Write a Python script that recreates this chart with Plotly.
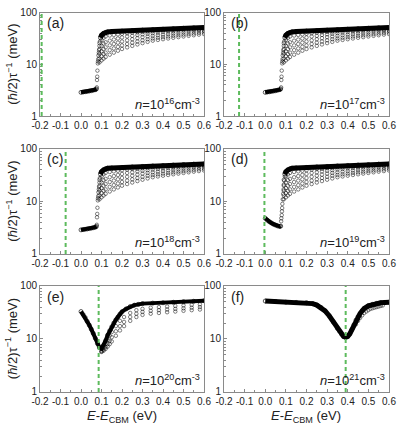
import plotly.graph_objects as go

# ---- data ----
PANEL_LABELS = ["(a)", "(b)", "(c)", "(d)", "(e)", "(f)"]
DOPING_EXP = ["16", "17", "18", "19", "20", "21"]
FERMI_LEVEL = [-0.192, -0.127, -0.075, -0.004, 0.086, 0.39]
X_TICKS = [-0.2, -0.1, 0.0, 0.1, 0.2, 0.3, 0.4, 0.5, 0.6]
X_TICK_TEXT = ["-0.2", "-0.1", "0.0", "0.1", "0.2", "0.3", "0.4", "0.5", "0.6"]

# low-energy segment, panels a-c
LOW_X = [0.0, 0.01, 0.02, 0.03, 0.04, 0.05, 0.06, 0.07, 0.075]
LOW_Y = [2.88, 2.92, 2.96, 3.0, 3.05, 3.1, 3.17, 3.25, 3.35]
RISE_X = [0.077, 0.078, 0.079, 0.08, 0.082, 0.083, 0.084, 0.085, 0.087, 0.088, 0.09, 0.092]
RISE_Y = [3.6, 5.0, 5.8, 7.6, 10.5, 11.5, 12.7, 15, 17, 19, 23, 28]

# low-energy segment, panel d
D_LOW_X = [0.0, 0.01, 0.02, 0.03, 0.04, 0.05, 0.06, 0.07, 0.075]
D_LOW_Y = [4.8, 4.4, 4.1, 3.9, 3.7, 3.55, 3.42, 3.35, 3.4]
D_RISE_X = [0.077, 0.078, 0.08, 0.081, 0.082, 0.083, 0.085, 0.087, 0.089, 0.09, 0.092, 0.095]
D_RISE_Y = [4.2, 4.8, 5.5, 6.5, 7.5, 9, 11, 14, 17, 21, 25, 30]

# dense upper band, panels a-d
TOP_X = [0.095, 0.10, 0.11, 0.12, 0.13, 0.15, 0.20, 0.25, 0.30, 0.35, 0.40, 0.45, 0.50, 0.55, 0.60]
TOP_Y = [33, 37, 40, 42, 43, 43.5, 44.5, 45.5, 46.5, 47.5, 48.5, 49.5, 50.5, 51.5, 52]

# scattered fan below the band, panels a-d
FAN_X = [0.09, 0.10, 0.11, 0.12, 0.14, 0.16, 0.18, 0.20, 0.225, 0.25, 0.275, 0.30,
         0.325, 0.35, 0.375, 0.40, 0.425, 0.45, 0.475, 0.50, 0.525, 0.55, 0.575, 0.60]
FAN_1 = [11, 12, 13, 14, 15.5, 17, 18.5, 20, 21.5, 23, 24.5, 26,
         27.5, 29, 30, 31, 32, 33, 34, 35, 36, 37, 38, 39]
FAN_2 = [13, 14.5, 16, 17, 19, 20.5, 22, 23.5, 25, 26.5, 28, 29.5,
         31, 32, 33, 34, 35, 36, 37, 38, 39, 40, 41, 42]
FAN_3 = [16, 18, 20, 21.5, 23.5, 25, 26.5, 28, 29.5, 31, 32.5, 34,
         35, 36, 37, 38, 39, 40, 41, 42, 43, 44, 44.5, 45]
FAN_4 = [20, 23, 25.5, 27, 29, 30.5, 32, 33.5, 35, 36, 37.5, 38.5,
         39.5, 40.5, 41.5, 42.5, 43.5, 44, 45, 46, 46.5, 47, 47.5, 48]
FAN_5 = [26, 30, 33, 35, 36.5, 37.5, 38.5, 39.5, 40.5, 41.5, 42, 43,
         43.5, 44.5, 45, 46, 46.5, 47, 48, 48.5, 49, 49.5, 50, 50.5]

# panel e
E_X = [0.0, 0.01, 0.02, 0.03, 0.04, 0.05, 0.06, 0.07, 0.08, 0.09, 0.10, 0.11, 0.12, 0.13,
       0.14, 0.15, 0.16, 0.17, 0.18, 0.19, 0.20, 0.22, 0.24, 0.26, 0.28, 0.30, 0.35, 0.40,
       0.45, 0.50, 0.55, 0.60]
E_Y = [33, 29, 25.5, 21.5, 18.3, 15.3, 12.7, 10.3, 8.2, 6.9, 6.6, 7.6, 9.3, 11.8,
       14.3, 17, 20, 23, 26, 29.5, 32.7, 37, 41, 43.5, 45, 46.5, 47.5, 48.2,
       49.3, 50.5, 51.5, 52.7]
E_SX = [0.10, 0.11, 0.12, 0.13, 0.14, 0.15, 0.17, 0.19, 0.21, 0.24, 0.27, 0.30, 0.34,
        0.38, 0.42, 0.46, 0.50, 0.54, 0.58]
E_S1 = [6.0, 6.8, 8.0, 9.5, 11.5, 13.5, 17.5, 22, 26, 31, 35, 37, 39, 40, 41, 42, 43, 44, 45]
E_S2 = [5.8, 6.3, 7.0, 8.0, 9.3, 10.8, 14, 17.5, 21, 26, 30, 32.5, 34, 35, 36, 37, 38, 39, 40]
E_S3 = [5.7, 6.0, 6.5, 7.2, 8.0, 9.0, 11.5, 14.5, 17.5, 22, 26, 28.5, 30, 31, 32, 33, 34, 35, 36]

# panel f
F_X = [0.0, 0.05, 0.10, 0.15, 0.20, 0.23, 0.25, 0.27, 0.29, 0.31, 0.33, 0.35, 0.36, 0.37,
       0.38, 0.39, 0.40, 0.41, 0.42, 0.43, 0.44, 0.45, 0.46, 0.47, 0.48, 0.50, 0.52, 0.54,
       0.56, 0.58, 0.60]
F_Y = [52, 51, 49.5, 49, 48.3, 46.5, 43.6, 39.5, 34, 27.5, 21, 15.8, 14, 12.3,
       11.2, 10.8, 11.2, 12.5, 15, 18.5, 22.7, 26.5, 30.3, 34, 37.7, 42.3, 45, 47,
       48.3, 49, 49.5]
F_SX = [0.44, 0.45, 0.46, 0.47, 0.48, 0.49, 0.50, 0.51, 0.52, 0.53, 0.54, 0.55, 0.56, 0.57]
F_SY = [19, 22, 25, 28, 31, 33, 35, 37, 38, 39, 40, 41, 42, 43]

# ---- layout geometry (paper fractions) ----
COL_DOM = [[0.1003, 0.5113], [0.5614, 0.9749]]
ROW_DOM = [[0.7321, 0.970], [0.4134, 0.6559], [0.0947, 0.3395]]

AXIS_COLOR = "#8a8a8a"
TEXT_COLOR = "#222222"
FONT = "Arial, Liberation Sans, sans-serif"
GREEN = "#5dbb5d"

MARK = dict(symbol="circle-open", size=3.5, color="rgba(0,0,0,0.7)", line=dict(width=0.7))
BAND_MARK = dict(symbol="circle-open", size=4, color="rgba(0,0,0,0.8)", line=dict(width=0.8))

fig = go.Figure()


def ax(letter, i):
    return letter if i == 1 else f"{letter}{i}"


def band(i, xs, ys, width):
    fig.add_trace(go.Scatter(x=xs, y=ys, mode="lines+markers",
                             line=dict(color="black", width=width),
                             marker=BAND_MARK, xaxis=ax("x", i), yaxis=ax("y", i),
                             hoverinfo="skip"))


def dots(i, xs, ys):
    fig.add_trace(go.Scatter(x=xs, y=ys, mode="markers", marker=MARK,
                             xaxis=ax("x", i), yaxis=ax("y", i), hoverinfo="skip"))


for i in range(1, 5):
    if i < 4:
        band(i, LOW_X, LOW_Y, 4)
        dots(i, RISE_X, RISE_Y)
    else:
        band(i, D_LOW_X, D_LOW_Y, 4)
        dots(i, D_RISE_X, D_RISE_Y)
    for fan in (FAN_1, FAN_2, FAN_3, FAN_4, FAN_5):
        dots(i, FAN_X, fan)
    band(i, TOP_X, TOP_Y, 5)

for s in (E_S1, E_S2, E_S3):
    dots(5, E_SX, s)
band(5, E_X, E_Y, 4)

dots(6, F_SX, F_SY)
band(6, F_X, F_Y, 5)

layout = dict(
    width=399, height=433,
    margin=dict(l=0, r=0, t=0, b=0, autoexpand=False),
    paper_bgcolor="white", plot_bgcolor="white",
    showlegend=False,
    font=dict(family=FONT, color=TEXT_COLOR),
)

shapes = []
annotations = []
for i in range(1, 7):
    row, col = (i - 1) // 2, (i - 1) % 2
    xa, ya = ax("x", i), ax("y", i)
    layout[ax("xaxis", i)] = dict(
        domain=COL_DOM[col], anchor=ya, range=[-0.2, 0.6],
        tickvals=X_TICKS, ticktext=X_TICK_TEXT, tickangle=0, automargin=False,
        ticks="inside", ticklen=3, tickcolor=AXIS_COLOR,
        minor=dict(ticks="inside", ticklen=2, dtick=0.05, tick0=-0.2, tickcolor=AXIS_COLOR),
        showline=True, mirror=True, linecolor=AXIS_COLOR, linewidth=1,
        showgrid=False, zeroline=False,
        tickfont=dict(size=10, color=TEXT_COLOR),
    )
    layout[ax("yaxis", i)] = dict(
        domain=ROW_DOM[row], anchor=xa, type="log", range=[0, 2], automargin=False,
        tickvals=[1, 10, 100], ticktext=["1", "10", "100"],
        ticks="inside", ticklen=3, tickcolor=AXIS_COLOR,
        minor=dict(ticks="inside", ticklen=2, tickcolor=AXIS_COLOR,
                   tickvals=[2, 3, 4, 5, 6, 7, 8, 9, 20, 30, 40, 50, 60, 70, 80, 90]),
        showline=True, mirror=True, linecolor=AXIS_COLOR, linewidth=1,
        showgrid=False, zeroline=False,
        tickfont=dict(size=10, color=TEXT_COLOR),
    )
    shapes.append(dict(type="line", xref=xa, yref=f"{ya} domain",
                       x0=FERMI_LEVEL[i - 1], x1=FERMI_LEVEL[i - 1], y0=0, y1=1,
                       line=dict(color=GREEN, width=2, dash="4px,3px")))
    annotations.append(dict(text=PANEL_LABELS[i - 1], xref=f"{xa} domain", yref=f"{ya} domain",
                            x=0.03, y=0.9, xanchor="left", yanchor="middle",
                            showarrow=False, font=dict(size=14, color=TEXT_COLOR)))
    annotations.append(dict(text=f"<i>n</i>=10<sup>{DOPING_EXP[i - 1]}</sup>cm<sup>-3</sup>",
                            xref=f"{xa} domain", yref=f"{ya} domain",
                            x=0.985, y=0.02, xanchor="right", yanchor="bottom",
                            showarrow=False, font=dict(size=13, color=TEXT_COLOR)))

ytitle = "(<i>ħ</i>/2)τ<sup>−1</sup> (meV)"
for yc in [0.851, 0.5346, 0.217]:
    annotations.append(dict(text=ytitle, xref="paper", yref="paper", x=0.028, y=yc,
                            xanchor="center", yanchor="middle",
                            textangle=-90, showarrow=False,
                            font=dict(size=13, color=TEXT_COLOR)))

xtitle = "<i>E</i>-<i>E</i><sub>CBM</sub> (eV)"
for xc in [0.3058, 0.768]:
    annotations.append(dict(text=xtitle, xref="paper", yref="paper", x=xc, y=0.037,
                            xanchor="center", yanchor="middle",
                            showarrow=False, font=dict(size=13, color=TEXT_COLOR)))

layout["shapes"] = shapes
layout["annotations"] = annotations
fig.update_layout(layout)

# the default page margin would push the figure 8 px right/down
fig.write_html("out.html", config={"displayModeBar": False},
               post_script="document.body.style.margin='0';")
